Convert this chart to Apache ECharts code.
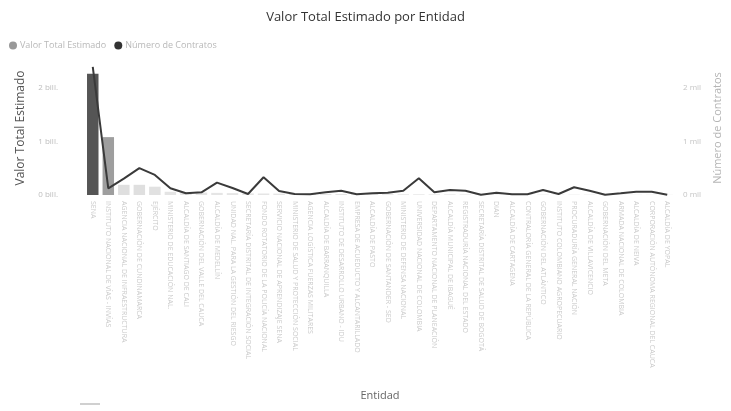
<!DOCTYPE html>
<html>
<head>
<meta charset="utf-8">
<script src="https://cdn.jsdelivr.net/npm/echarts@6/dist/echarts.min.js"></script>
<style>
html,body{margin:0;padding:0;background:#fff;}
#c{width:731px;height:411px;}
</style>
</head>
<body>
<div id="c"></div>
<script>
var categories = [
  "SENA",
  "INSTITUTO NACIONAL DE VÍAS - INVÍAS",
  "AGENCIA NACIONAL DE INFRAESTRUCTURA",
  "GOBERNACIÓN DE CUNDINAMARCA",
  "EJÉRCITO",
  "MINISTERIO DE EDUCACIÓN NAL.",
  "ALCALDÍA DE SANTIAGO DE CALI",
  "GOBERNACIÓN DEL VALLE DEL CAUCA",
  "ALCALDÍA DE MEDELLÍN",
  "UNIDAD NAL. PARA LA GESTIÓN DEL RIESGO",
  "SECRETARÍA DISTRITAL DE INTEGRACIÓN SOCIAL",
  "FONDO ROTATORIO DE LA POLICÍA NACIONAL",
  "SERVICIO NACIONAL DE APRENDIZAJE SENA",
  "MINISTERIO DE SALUD Y PROTECCIÓN SOCIAL",
  "AGENCIA LOGÍSTICA FUERZAS MILITARES",
  "ALCALDÍA DE BARRANQUILLA",
  "INSTITUTO DE DESARROLLO URBANO - IDU",
  "EMPRESA DE ACUEDUCTO Y ALCANTARILLADO",
  "ALCALDÍA DE PASTO",
  "GOBERNACIÓN DE SANTANDER - SED",
  "MINISTERIO DE DEFENSA NACIONAL",
  "UNIVERSIDAD NACIONAL DE COLOMBIA",
  "DEPARTAMENTO NACIONAL DE PLANEACIÓN",
  "ALCALDÍA MUNICIPAL DE IBAGUÉ",
  "REGISTRADURÍA NACIONAL DEL ESTADO",
  "SECRETARÍA DISTRITAL DE SALUD DE BOGOTÁ",
  "DIAN",
  "ALCALDÍA DE CARTAGENA",
  "CONTRALORÍA GENERAL DE LA REPÚBLICA",
  "GOBERNACIÓN DEL ATLÁNTICO",
  "INSTITUTO COLOMBIANO AGROPECUARIO",
  "PROCURADURÍA GENERAL NACIÓN",
  "ALCALDÍA DE VILLAVICENCIO",
  "GOBERNACIÓN DEL META",
  "ARMADA NACIONAL DE COLOMBIA",
  "ALCALDÍA DE NEIVA",
  "CORPORACIÓN AUTÓNOMA REGIONAL DEL CAUCA",
  "ALCALDÍA DE YOPAL"
];
// Valor Total Estimado (billones)
var valorTotal = [2.26, 1.08, 0.19, 0.19, 0.155, 0.06, 0.05, 0.045, 0.04, 0.035, 0.03, 0.028, 0.026, 0.024, 0.022, 0.02, 0.018, 0.017, 0.016, 0.015, 0.014, 0.013, 0.012, 0.011, 0.01, 0.009, 0.009, 0.008, 0.008, 0.007, 0.007, 0.006, 0.006, 0.005, 0.005, 0.004, 0.004, 0.003];
// Número de Contratos
var numContratos = [2390, 125, 305, 500, 374, 125, 32, 50, 230, 131, 19, 331, 75, 19, 13, 50, 80, 13, 32, 43, 80, 312, 50, 93, 80, 5, 43, 13, 13, 93, 19, 144, 80, 4, 32, 62, 62, 4];
var leftTicks = ["0 bill.", "1 bill.", "2 bill."];
var rightTicks = ["0 mil", "1 mil", "2 mil"];

var chart = echarts.init(document.getElementById('c'), null, {renderer: 'canvas'});
var FONT = '"Open Sans", "Noto Sans", sans-serif';
chart.setOption({
  animation: false,
  backgroundColor: '#ffffff',
  textStyle: {fontFamily: FONT},
  title: {
    text: 'Valor Total Estimado por Entidad',
    left: 'center', top: 6,
    textStyle: {fontSize: 13, fontWeight: 'normal', color: '#333', fontFamily: FONT}
  },
  legend: {
    left: 4, top: 36,
    itemWidth: 8, itemHeight: 8, itemGap: 8,
    icon: 'circle',
    textStyle: {fontSize: 9, color: '#b8b8b8', padding: [0, 0, 0, -2]},
    data: [
      {name: 'Valor Total Estimado', itemStyle: {color: '#999999'}},
      {name: 'Número de Contratos', itemStyle: {color: '#333333'}}
    ]
  },
  grid: {left: 85, right: 46, top: 61, bottom: 216, containLabel: false},
  xAxis: {
    type: 'category',
    data: categories,
    name: 'Entidad',
    nameLocation: 'middle',
    nameGap: 195,
    nameTextStyle: {fontSize: 11, color: '#666'},
    axisLine: {show: false},
    axisTick: {show: false},
    axisLabel: {interval: 0, rotate: -90, fontSize: 7, color: '#cacaca', margin: 6}
  },
  yAxis: [
    {
      type: 'value', min: 0, max: 2.5, interval: 1,
      name: 'Valor Total Estimado',
      nameLocation: 'middle', nameGap: 58,
      nameTextStyle: {fontSize: 12, color: '#555'},
      splitLine: {show: false},
      axisLine: {show: false}, axisTick: {show: false},
      axisLabel: {
        fontSize: 8, color: '#bdbdbd', margin: 27, showMaxLabel: false,
        formatter: function (v) { return (v % 1 === 0) ? leftTicks[v] : ''; }
      }
    },
    {
      type: 'value', min: 0, max: 2500, interval: 1000,
      name: 'Número de Contratos',
      nameLocation: 'middle', nameGap: 29,
      nameTextStyle: {fontSize: 11, color: '#b5b5b5'},
      splitLine: {show: false},
      axisLine: {show: false}, axisTick: {show: false},
      axisLabel: {
        fontSize: 8, color: '#c5c5c5', margin: 8, showMaxLabel: false,
        formatter: function (v) { return (v % 1000 === 0) ? rightTicks[v / 1000] : ''; }
      }
    }
  ],
  visualMap: {
    show: false, seriesIndex: 0, dimension: 1,
    min: 0, max: 2.26,
    inRange: {color: ['#e6e6e6', '#d2d2d2', '#999999', '#777777', '#555555']}
  },
  series: [
    {
      name: 'Valor Total Estimado',
      type: 'bar',
      yAxisIndex: 0,
      barWidth: '74%',
      data: valorTotal
    },
    {
      name: 'Número de Contratos',
      type: 'line',
      yAxisIndex: 1,
      symbol: 'none',
      lineStyle: {color: '#3a3a3a', width: 2},
      itemStyle: {color: '#333333'},
      data: numContratos
    }
  ],
  graphic: [
    {type: 'rect', left: 80, top: 403, shape: {width: 20, height: 2}, style: {fill: '#d0d0d0'}}
  ]
});
</script>
</body>
</html>
